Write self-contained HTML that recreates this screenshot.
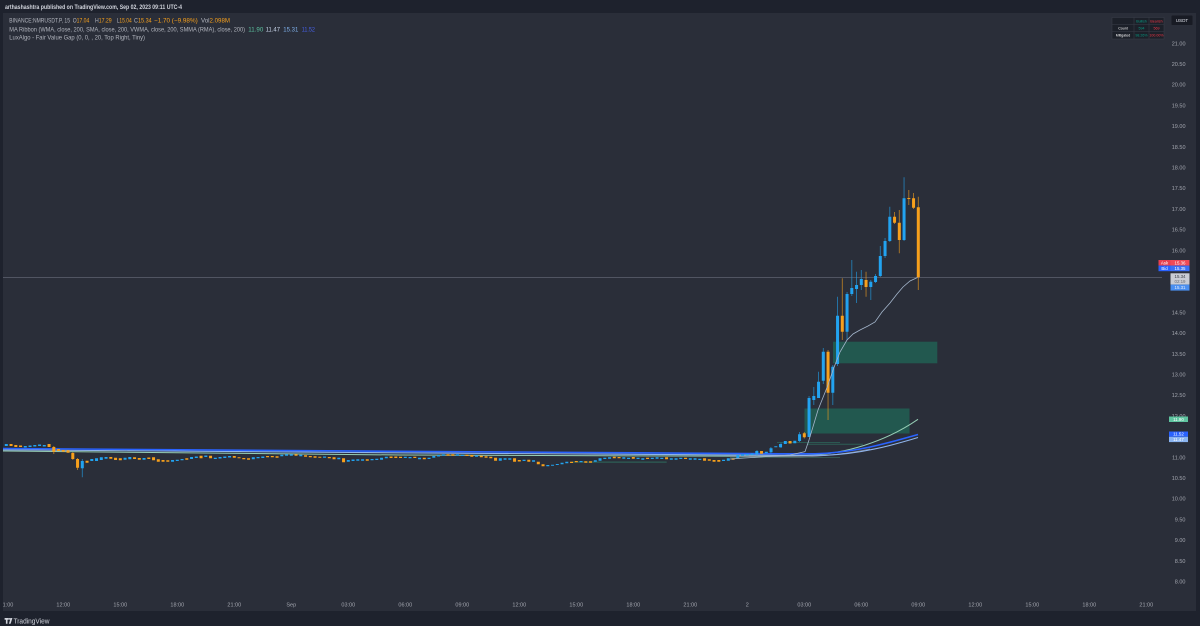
<!DOCTYPE html>
<html>
<head>
<meta charset="utf-8">
<style>
html,body{margin:0;padding:0;background:#2a2e39;}
body{width:1200px;height:626px;overflow:hidden;}
svg{display:block;font-family:"Liberation Sans",sans-serif;}
</style>
</head>
<body>
<svg width="1200" height="626" viewBox="0 0 1200 626" xmlns="http://www.w3.org/2000/svg">
<!-- backgrounds -->
<rect x="0" y="0" width="1200" height="626" fill="#2a2e39"/>
<rect x="0" y="0" width="1200" height="13" fill="#1e222d"/>
<rect x="0" y="611" width="1200" height="15" fill="#1e222d"/>
<rect x="0" y="13" width="3" height="598" fill="#1e222d"/>
<rect x="1196" y="13" width="4" height="598" fill="#1e222d"/>

<!-- price line -->
<line x1="3" y1="277.5" x2="1162" y2="277.5" stroke="#5f6370" stroke-width="0.7"/>

<!-- FVG boxes -->
<rect x="833" y="341.7" width="104.3" height="21.6" fill="#22584f"/>
<rect x="804.5" y="408.5" width="105" height="25" fill="#22584f"/>
<!-- small FVG lines -->
<rect x="571.7" y="461.6" width="95" height="1" fill="#2d6a5d"/>
<rect x="806.7" y="443.8" width="56.3" height="0.8" fill="#2d6a5d"/>
<rect x="777" y="442.3" width="63" height="0.7" fill="#2d6a5d"/>
<rect x="730" y="457.2" width="110" height="0.8" fill="#3a5f58"/>

<!-- MA ribbon -->
<path d="M3 451 L400 455 L760 456.3 L806 455.5 C845 454 885 442 918 419.3" fill="none" stroke="#95cdb5" stroke-width="1"/>
<path d="M730 456.5 L800 456.8 C830 456.5 855 452 870 449" fill="none" stroke="#7f8593" stroke-width="0.8"/>
<path d="M3 449.8 L400 452.8 L780 455.3 L825 455.3 C860 454 890 446 918 437.5" fill="none" stroke="#8fb3ea" stroke-width="1.1"/>
<path d="M3 448.5 L400 451.3 L780 453.8 L815 453.8 C855 452.5 885 444 918 434.5" fill="none" stroke="#2962ff" stroke-width="1.6"/>

<!-- wicks -->
<path fill="none" stroke="#22a3f0" stroke-width="0.9" stroke-opacity="0.65" d="M82.3 459V477.3 M809.05 396V437 M813.8 387V405 M818.55 371.7V398 M823.3 348V384 M832.8 365V405 M837.55 296.7V366 M847.05 292V340 M851.8 260V296 M856.55 271.7V303 M861.3 270V290 M870.8 280V300 M875.55 274V283 M880.3 246V277 M885.05 238V258 M889.8 206.7V242 M904.05 177.3V241 M799.55 432V442 M770.9 447V453.5 M781 442.5V448 M757 450V455.5"/>
<path fill="none" stroke="#f7a01c" stroke-width="0.9" stroke-opacity="0.65" d="M53.8 446V454 M72.8 452V460 M77.55 458V470 M804.3 432V438.5 M828.05 350V420 M842.3 278.3V340 M866.05 271.7V296.7 M894.55 212V224 M899.3 210V253.3 M908.8 190V205 M913.55 193V209 M918.3 196.7V290"/>

<!-- blue bodies -->
<path fill="#22a3f0" d="M4.8 444h3v2h-3z M23.8 446h3v1.5h-3z M28.55 445.5h3v1.5h-3z M33.3 445h3v1.5h-3z M38.05 444.5h3v1.5h-3z M42.8 445h3v1.5h-3z M80.8 461h3v7.3h-3z M90.3 459h3v2h-3z M95.05 458.3h3v2.7h-3z M99.8 457.3h3v2.7h-3z M104.55 457h3v1.7h-3z M123.55 457.7h3v2h-3z M128.3 457h3v2.3h-3z M142.55 458h3v1.7h-3z M171.05 460h3v1.7h-3z M175.8 459.7h3v1.3h-3z M180.55 459h3v1.3h-3z M190.05 457h3v2h-3z M194.8 456.5h3v1.5h-3z M204.3 455.5h3v1.5h-3z M213.8 457.7h3v1.3h-3z M218.55 457h3v1.5h-3z M223.3 456.5h3v1.5h-3z M228.05 456h3v1.5h-3z M251.8 457.3h3v2h-3z M256.55 457h3v1.3h-3z M261.3 456.5h3v1.5h-3z M280.3 454.7h3v1.6h-3z M285.05 454.3h3v1.4h-3z M289.8 454.3h3v1.4h-3z M299.3 454.7h3v1.6h-3z M323.05 456.5h3v1.2h-3z M337.3 457.7h3v1.6h-3z M346.8 460h3v1.7h-3z M351.55 459.5h3v1.5h-3z M356.3 459.3h3v1.4h-3z M361.05 459.3h3v1.4h-3z M370.55 459h3v1.3h-3z M375.3 458.7h3v1.3h-3z M380.05 457.7h3v2h-3z M384.8 456.7h3v1.6h-3z M403.8 456.7h3v1.3h-3z M408.55 457h3v1.3h-3z M418.05 457.7h3v1.6h-3z M427.55 457.7h3v1.3h-3z M432.3 456h3v1.7h-3z M437.05 455h3v1.5h-3z M441.8 454.3h3v1.4h-3z M456.05 454.3h3v1.4h-3z M460.8 454.7h3v1.3h-3z M475.05 455.3h3v1.4h-3z M498.8 458.3h3v2.4h-3z M503.55 458.3h3v1.4h-3z M508.3 458.3h3v1.4h-3z M522.55 459.7h3v1.3h-3z M532.05 460.3h3v1.4h-3z M546.3 465h3v1.3h-3z M551.05 464.7h3v1h-3z M555.8 464h3v1h-3z M560.55 462.7h3v1.6h-3z M565.3 461.7h3v1.6h-3z M579.55 461h3v1.3h-3z M593.8 460.3h3v1.4h-3z M598.55 458.3h3v2.4h-3z M603.3 457.7h3v1.3h-3z M608.05 457.3h3v1.4h-3z M622.3 457.3h3v1.4h-3z M627.05 457.7h3v1.3h-3z M636.55 457.7h3v1.3h-3z M641.3 458.3h3v1.4h-3z M650.8 457.7h3v1.3h-3z M655.55 457.3h3v1.4h-3z M660.3 457.7h3v1.3h-3z M669.8 458.3h3v1.4h-3z M674.55 458.3h3v1.4h-3z M679.3 457.7h3v1.3h-3z M688.8 458.3h3v1.4h-3z M693.55 458.3h3v1.4h-3z M698.3 458.7h3v1.3h-3z M722.05 459.7h3v1.3h-3z M726.8 458.3h3v2.4h-3z M736.3 455h3v3.3h-3z M741.05 454.3h3v1.4h-3z M745.8 454h3v1.3h-3z M750.55 453.5h3v1.5h-3z M755.3 451h3v3.3h-3z M764.8 451.7h3v1.6h-3z M769.55 448.3h3v4h-3z M774.3 446.3h3v1h-3z M779.05 444h3v3.3h-3z M783.8 441h3v3h-3z M793.3 440.7h3v2.6h-3z M798.05 434.3h3v6.7h-3z M807.55 398h3v39h-3z M812.3 396h3v4h-3z M817.05 381.7h3v16.3h-3z M821.8 351.7h3v29h-3z M831.3 366.7h3v26h-3z M836.05 315.7h3v48.3h-3z M845.55 294h3v37.7h-3z M850.3 288h3v6h-3z M855.05 285h3v4h-3z M859.8 279h3v6h-3z M869.3 281.7h3v5.3h-3z M874.05 276h3v6h-3z M878.8 256h3v20h-3z M883.55 241h3v15h-3z M888.3 216.7h3v24.3h-3z M902.55 198.3h3v41.7h-3z"/>

<!-- orange bodies -->
<path fill="#f7a01c" d="M9.55 444h3v2h-3z M14.3 445h3v2h-3z M19.05 445.5h3v1.5h-3z M47.55 444h3v3h-3z M52.3 447h3v4.7h-3z M57.05 449h3v2h-3z M61.8 450h3v1.7h-3z M66.55 450.3h3v2.4h-3z M71.3 453h3v6h-3z M76.05 459h3v8.7h-3z M85.55 460.7h3v2h-3z M109.3 457h3v1.7h-3z M114.05 457.7h3v2.3h-3z M118.8 458.3h3v2h-3z M133.05 457.3h3v1.7h-3z M137.8 458h3v1.7h-3z M147.3 457.5h3v1.5h-3z M152.05 457.3h3v3h-3z M156.8 459.3h3v2.4h-3z M161.55 460h3v1.7h-3z M166.3 460.3h3v1.4h-3z M185.3 458.3h3v1.4h-3z M199.55 455.7h3v2.6h-3z M209.05 455.7h3v2.6h-3z M232.8 456h3v1.7h-3z M237.55 457.3h3v1h-3z M242.3 458h3v1.3h-3z M247.05 458.3h3v1.4h-3z M266.05 456h3v1.3h-3z M270.8 456h3v1.3h-3z M275.55 456.3h3v1.4h-3z M294.55 454.3h3v1.4h-3z M304.05 455.3h3v1.4h-3z M308.8 456h3v1.3h-3z M313.55 456.3h3v1.4h-3z M318.3 456.7h3v1h-3z M327.8 457h3v1.3h-3z M332.55 457.3h3v2h-3z M342.05 458.3h3v4h-3z M365.8 459.3h3v1.4h-3z M389.55 456.5h3v1.5h-3z M394.3 456.5h3v1.5h-3z M399.05 456.7h3v1.3h-3z M413.3 456.7h3v1.3h-3z M422.8 457.7h3v1.6h-3z M446.55 454.3h3v1.4h-3z M451.3 454.3h3v1.4h-3z M465.55 454.7h3v1.3h-3z M470.3 455h3v1.7h-3z M479.8 455.7h3v1.6h-3z M484.55 456.3h3v1.4h-3z M489.3 456.7h3v1.6h-3z M494.05 457.7h3v3h-3z M513.05 458.3h3v3.4h-3z M517.8 460h3v1.5h-3z M527.3 459.7h3v2h-3z M536.8 461.7h3v2.6h-3z M541.55 464.3h3v2h-3z M570.05 461.7h3v1.3h-3z M574.8 461h3v1.3h-3z M584.3 461.3h3v1.4h-3z M589.05 461.3h3v1.4h-3z M612.8 456.7h3v1.6h-3z M617.55 457h3v1.3h-3z M631.8 457h3v1.7h-3z M646.05 457.7h3v1.3h-3z M665.05 457.3h3v2h-3z M684.05 457.7h3v1.3h-3z M703.05 458.3h3v2.4h-3z M707.8 459.3h3v1.4h-3z M712.55 460h3v1.7h-3z M717.3 460h3v1.7h-3z M731.55 458.3h3v1.4h-3z M760.05 451h3v2.7h-3z M788.55 441h3v2.5h-3z M802.8 433.3h3v4h-3z M826.55 351.7h3v41h-3z M840.8 315.7h3v16h-3z M864.55 280h3v7h-3z M893.05 216.7h3v6h-3z M897.8 222.7h3v17.3h-3z M907.3 198h3v1h-3z M912.05 198.3h3v9.4h-3z M916.8 207.3h3v70h-3z"/>

<!-- fast MA line -->
<path d="M730 459 L760 457 L790 455 L805 451.7 L809 440 L813 426.7 L818 410 L822 400 L828 385 L833 370 L840 352 L847 340 L853 334 L860 330 L868 326 L875 322 L882 312 L890 303 L897 294 L903 287 L910 281 L917.5 277.5" fill="none" stroke="#a4b6cc" stroke-width="0.8"/>

<!-- header text -->
<text x="5" y="9" font-size="6" font-weight="bold" fill="#d1d4dc" textLength="177" lengthAdjust="spacingAndGlyphs">arthashashtra published on TradingView.com, Sep 02, 2023 09:11 UTC-4</text>

<g font-size="6" fill="#b2b5be">
<text x="9.3" y="22.6" textLength="60.7" lengthAdjust="spacingAndGlyphs">BINANCE:NMRUSDT.P, 15</text>
<text x="72.7" y="22.6" textLength="16.6" lengthAdjust="spacingAndGlyphs">O<tspan fill="#f7a01c">17.04</tspan></text>
<text x="95" y="22.6" textLength="16.7" lengthAdjust="spacingAndGlyphs">H<tspan fill="#f7a01c">17.29</tspan></text>
<text x="116.7" y="22.6" textLength="15" lengthAdjust="spacingAndGlyphs">L<tspan fill="#f7a01c">15.04</tspan></text>
<text x="134" y="22.6" textLength="17.7" lengthAdjust="spacingAndGlyphs">C<tspan fill="#f7a01c">15.34</tspan></text>
<text x="154" y="22.6" textLength="43.7" lengthAdjust="spacingAndGlyphs" fill="#f7a01c">−1.70 (−9.98%)</text>
<text x="201" y="22.6" textLength="29" lengthAdjust="spacingAndGlyphs">Vol<tspan fill="#f7a01c">2.098M</tspan></text>

<text x="9.3" y="31.4" textLength="235.7" lengthAdjust="spacingAndGlyphs">MA Ribbon (WMA, close, 200, SMA, close, 200, VWMA, close, 200, SMMA (RMA), close, 200)</text>
<text x="248.3" y="31.4" textLength="15" lengthAdjust="spacingAndGlyphs" fill="#5cc3a0">11.90</text>
<text x="265.7" y="31.4" textLength="14.3" lengthAdjust="spacingAndGlyphs" fill="#c9d6ea">11.47</text>
<text x="283.3" y="31.4" textLength="15" lengthAdjust="spacingAndGlyphs" fill="#7fb0ec">15.31</text>
<text x="301.7" y="31.4" textLength="13.3" lengthAdjust="spacingAndGlyphs" fill="#4660e8">11.52</text>

<text x="9.3" y="39.6" textLength="135.7" lengthAdjust="spacingAndGlyphs">LuxAlgo - Fair Value Gap (0, 0, , 20, Top Right, Tiny)</text>
</g>

<!-- top-right table -->
<g>
<rect x="1112" y="17.5" width="52" height="21.5" fill="#1c2029" stroke="#3b3f4a" stroke-width="0.5"/>
<line x1="1134" y1="17.5" x2="1134" y2="39" stroke="#3b3f4a" stroke-width="0.5"/>
<line x1="1149" y1="17.5" x2="1149" y2="39" stroke="#3b3f4a" stroke-width="0.5"/>
<line x1="1112" y1="24.5" x2="1164" y2="24.5" stroke="#3b3f4a" stroke-width="0.5"/>
<line x1="1112" y1="31.5" x2="1164" y2="31.5" stroke="#3b3f4a" stroke-width="0.5"/>
<g font-size="3.6" text-anchor="middle">
<text x="1141.5" y="22.3" fill="#089981">Bullish</text>
<text x="1156.5" y="22.3" fill="#f23645">Bearish</text>
<text x="1123" y="29.3" fill="#ffffff">Count</text>
<text x="1141.5" y="29.3" fill="#089981">594</text>
<text x="1156.5" y="29.3" fill="#f23645">569</text>
<text x="1123" y="36.5" fill="#ffffff">Mitigated</text>
<text x="1141.5" y="36.5" fill="#089981">98.26%</text>
<text x="1156.5" y="36.5" fill="#f23645">100.00%</text>
</g>
</g>
<rect x="1171.5" y="15.5" width="21" height="9.5" fill="#181b24" rx="0.8"/>
<text x="1182" y="22" font-size="4.6" fill="#e0e3eb" text-anchor="middle">USDT</text>

<!-- price axis labels -->
<g font-size="5.5" fill="#a3a6af" text-anchor="end">
<text x="1185.5" y="45.3">21.00</text>
<text x="1185.5" y="66">20.50</text>
<text x="1185.5" y="86.7">20.00</text>
<text x="1185.5" y="107.4">19.50</text>
<text x="1185.5" y="128.1">19.00</text>
<text x="1185.5" y="148.8">18.50</text>
<text x="1185.5" y="169.5">18.00</text>
<text x="1185.5" y="190.2">17.50</text>
<text x="1185.5" y="210.9">17.00</text>
<text x="1185.5" y="231.6">16.50</text>
<text x="1185.5" y="252.3">16.00</text>
<text x="1185.5" y="314.4">14.50</text>
<text x="1185.5" y="335.1">14.00</text>
<text x="1185.5" y="355.8">13.50</text>
<text x="1185.5" y="376.5">13.00</text>
<text x="1185.5" y="397.2">12.50</text>
<text x="1185.5" y="417.9">12.00</text>
<text x="1185.5" y="459.3">11.00</text>
<text x="1185.5" y="480">10.50</text>
<text x="1185.5" y="500.7">10.00</text>
<text x="1185.5" y="521.4">9.50</text>
<text x="1185.5" y="542.1">9.00</text>
<text x="1185.5" y="562.8">8.50</text>
<text x="1185.5" y="583.5">8.00</text>
</g>

<!-- price tags -->
<g font-size="4.4" text-anchor="middle">
<rect x="1158.5" y="260" width="12" height="5.6" fill="#e8404f"/>
<rect x="1170.5" y="260" width="19" height="5.6" fill="#f04a57"/>
<text x="1164.5" y="264.4" fill="#ffffff">Ask</text>
<text x="1180" y="264.4" fill="#ffffff">15.36</text>
<rect x="1158.5" y="265.6" width="12" height="5.6" fill="#2962ff"/>
<rect x="1170.5" y="265.6" width="19" height="5.6" fill="#3a6ff5"/>
<text x="1164.5" y="270" fill="#ffffff">Bid</text>
<text x="1180" y="270" fill="#ffffff">15.35</text>
<rect x="1170.5" y="273.3" width="19" height="11.2" fill="#c9ccd4"/>
<text x="1180" y="277.9" fill="#3a3d46">15.34</text>
<text x="1180" y="283" fill="#6a6d76">02:19</text>
<rect x="1170.5" y="284.6" width="19" height="6" fill="#4a8ff0"/>
<text x="1180" y="289.2" fill="#e8f0ff">15.31</text>

<rect x="1169" y="416.5" width="19" height="5.5" fill="#5fc4a0"/>
<text x="1178.5" y="420.8" fill="#ffffff">11.90</text>
<rect x="1169" y="431.5" width="19" height="5.3" fill="#2962ff"/>
<text x="1178.5" y="435.7" fill="#ffffff">11.52</text>
<rect x="1169" y="436.8" width="19" height="5.3" fill="#8ab4f0"/>
<text x="1178.5" y="441" fill="#ffffff">11.47</text>
</g>

<!-- time axis -->
<g font-size="5.5" fill="#a3a6af" text-anchor="middle">
<text x="8" y="606.5">1:00</text>
<text x="63.3" y="606.5">12:00</text>
<text x="120.3" y="606.5">15:00</text>
<text x="177.3" y="606.5">18:00</text>
<text x="234.3" y="606.5">21:00</text>
<text x="291.3" y="606.5">Sep</text>
<text x="348.3" y="606.5">03:00</text>
<text x="405.3" y="606.5">06:00</text>
<text x="462.3" y="606.5">09:00</text>
<text x="519.3" y="606.5">12:00</text>
<text x="576.3" y="606.5">15:00</text>
<text x="633.3" y="606.5">18:00</text>
<text x="690.3" y="606.5">21:00</text>
<text x="747.3" y="606.5">2</text>
<text x="804.3" y="606.5">03:00</text>
<text x="861.3" y="606.5">06:00</text>
<text x="918.3" y="606.5">09:00</text>
<text x="975.3" y="606.5">12:00</text>
<text x="1032.3" y="606.5">15:00</text>
<text x="1089.3" y="606.5">18:00</text>
<text x="1146.3" y="606.5">21:00</text>
</g>

<!-- TradingView logo -->
<g fill="#d1d4dc">
<path d="M4.6 618h4.2v1.8h-1.3v4h-1.6v-4h-1.3z"/>
<circle cx="9.7" cy="618.9" r="0.9"/>
<path d="M10.6 618h1.8l-1.8 5.8h-1.7z"/>
</g>
<text x="13.5" y="623.3" font-size="7" fill="#d1d4dc" textLength="36" lengthAdjust="spacingAndGlyphs">TradingView</text>
</svg>
</body>
</html>
